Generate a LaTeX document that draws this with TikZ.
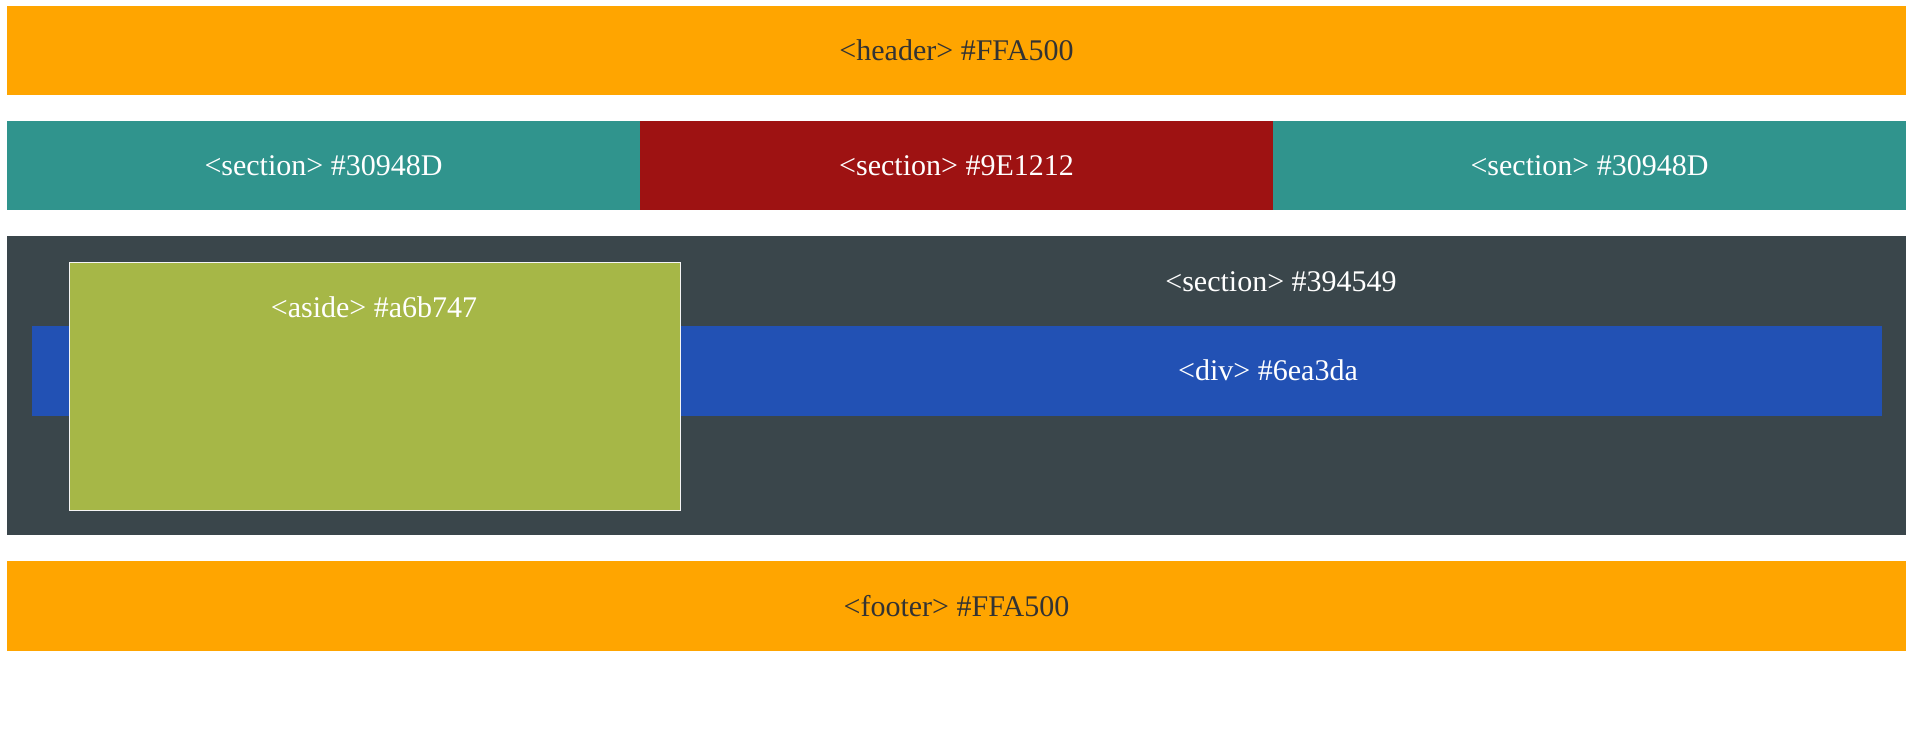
\documentclass[tikz,border=0pt]{standalone}
\usepackage{fontspec}
\setmainfont{Liberation Serif}

\definecolor{hdorange}{HTML}{FFA500}
\definecolor{secteal}{HTML}{30948D}
\definecolor{secred}{HTML}{9E1212}
\definecolor{secdark}{HTML}{3A464B}
\definecolor{divblue}{HTML}{2251B4}
\definecolor{asidegreen}{HTML}{A6B747}
\definecolor{txtgray}{HTML}{333333}

\begin{document}
\begin{tikzpicture}[x=1pt, y=-1pt,
	box/.style={anchor=north west, inner sep=0pt, outer sep=0pt},
	tag/.style={font=\fontsize{30}{36}\selectfont, text=white}]
	\def\XL{7}
	\def\W{1899}
	\def\SW{633}

	%画布边界
	\useasboundingbox (0,0) rectangle (1906,742);

	%页眉
	\node [box, tag, fill=hdorange, text=txtgray, minimum width=\W pt, minimum height=89pt] (header) at (\XL,6) {<header> \#FFA500};

	%三个并排的 section
	\foreach \c/\t [count=\i] in {secteal/30948D, secred/9E1212, secteal/30948D}
		\node [box, tag, fill=\c, minimum width=\SW pt, minimum height=89pt] (sec\i) at ({\XL+\SW*(\i-1)},121) {<section> \#\t};

	%主体 section
	\node [box, fill=secdark, minimum width=\W pt, minimum height=299pt] (main) at (\XL,236) {};
	\node [tag, anchor=base] (maintxt) at (1281,291) {<section> \#394549};

	%div 横条
	\node [box, fill=divblue, minimum width=1850pt, minimum height=90pt] (div) at (32,326) {};
	\node [tag, anchor=base] (divtxt) at (1268,380) {<div> \#6ea3da};

	%浮动的 aside
	\node [box, fill=asidegreen, draw=white!92!gray, line width=1pt, minimum width=611pt, minimum height=248pt] (aside) at (69,262) {};
	\node [tag, anchor=base] (asidetxt) at (374,317) {<aside> \#a6b747};

	%页脚
	\node [box, tag, fill=hdorange, text=txtgray, minimum width=\W pt, minimum height=90pt] (footer) at (\XL,561) {<footer> \#FFA500};

\end{tikzpicture}
\end{document}
